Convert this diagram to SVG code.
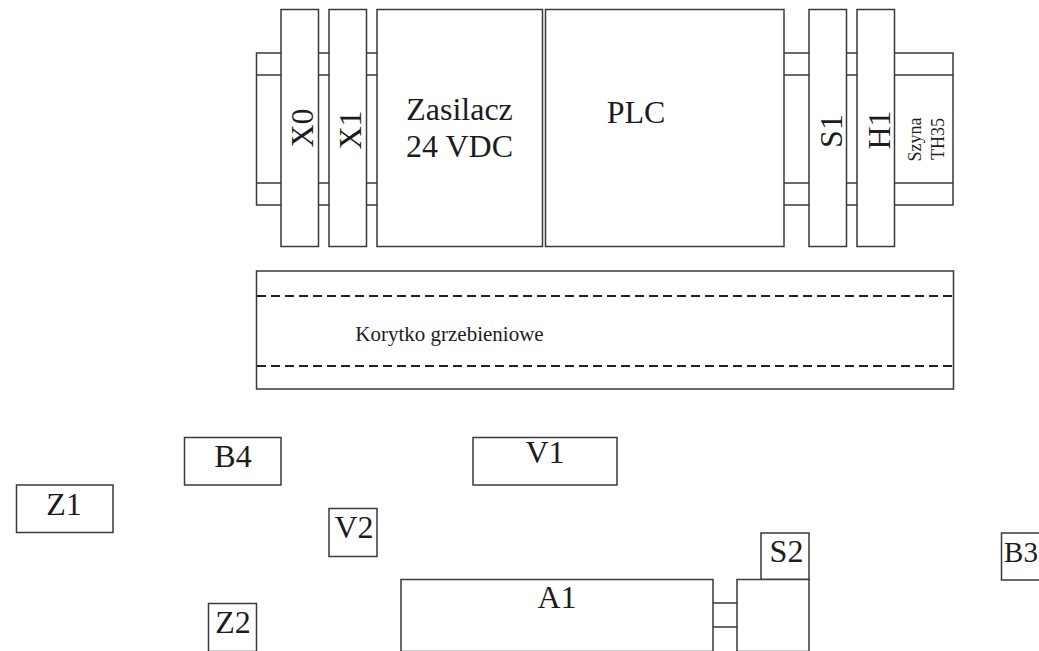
<svg xmlns="http://www.w3.org/2000/svg" width="1039" height="651" viewBox="0 0 1039 651">
<style>
rect,line,path{fill:none;stroke:#3a3a3a;stroke-width:1.5}
rect{fill:#fff}
.dash{stroke:#222;stroke-width:2;stroke-dasharray:9 5}
text{font-family:"Liberation Serif","Times New Roman",serif;fill:#1c1c1c;text-anchor:middle}
.b{font-size:32px}
.m{font-size:21px}
.s{font-size:18px}
</style>
<rect width="1039" height="651" style="fill:#fff;stroke:none"/>
<g id="connectors">
<path d="M281 53H256.500V205H281M256.500 75H281M256.500 183H281"/>
<path d="M318 53H329M318 75H329M318 183H329M318 205H329"/>
<path d="M366 53H377M366 75H377M366 183H377M366 205H377"/>
<path d="M784 53H809M784 75H809M784 183H809M784 205H809"/>
<path d="M846 53H857M846 75H857M846 183H857M846 205H857"/>
<path d="M894 53H953V205H894M894 75H953M894 183H953"/>
<path d="M713 603H737M713 627H737"/>
</g>
<g id="X0"><rect x="281" y="9.500" width="37.500" height="237"/><text class="b" transform="translate(313,128) rotate(-90)">X0</text></g>
<g id="X1"><rect x="329" y="9.500" width="37.500" height="237"/><text class="b" transform="translate(361,130) rotate(-90)">X1</text></g>
<g id="zasilacz"><rect x="377" y="9.500" width="165.500" height="237"/><text class="b" x="459.500" y="120">Zasilacz</text><text class="b" x="459.500" y="157">24 VDC</text></g>
<g id="plc"><rect x="545.500" y="9.500" width="238.500" height="237"/><text class="b" x="636" y="123">PLC</text></g>
<g id="S1"><rect x="809" y="9.500" width="37.500" height="237"/><text class="b" transform="translate(842,131) rotate(-90)">S1</text></g>
<g id="H1"><rect x="857" y="9.500" width="37.500" height="237"/><text class="b" transform="translate(890,130) rotate(-90)">H1</text></g>
<g id="szyna"><text class="s" transform="translate(921,139.500) rotate(-90)">Szyna</text><text class="s" transform="translate(944,139) rotate(-90)">TH35</text></g>
<g id="korytko"><rect x="256.500" y="271" width="697" height="118"/><line class="dash" x1="257" y1="296" x2="953" y2="296"/><line class="dash" x1="257" y1="366" x2="953" y2="366"/><text class="m" x="449.500" y="341">Korytko grzebieniowe</text></g>
<g id="B4"><rect x="184.500" y="437.500" width="96.500" height="47.500"/><text class="b" x="233" y="467">B4</text></g>
<g id="V1"><rect x="473" y="437.500" width="144" height="47.500"/><text class="b" x="545" y="463">V1</text></g>
<g id="Z1"><rect x="16.500" y="485" width="96.500" height="47.500"/><text class="b" x="64" y="515">Z1</text></g>
<g id="V2"><rect x="329" y="508.500" width="48" height="48"/><text class="b" x="354" y="538">V2</text></g>
<g id="Z2"><rect x="208.500" y="603.500" width="48" height="48"/><text class="b" x="233" y="633">Z2</text></g>
<g id="A1"><rect x="401" y="579.500" width="312" height="72"/><text class="b" x="557" y="608">A1</text></g>
<g id="S2"><rect x="761" y="533" width="48" height="46.500"/><text class="b" x="786.500" y="562">S2</text></g>
<g id="A1-unit"><rect x="737" y="579.500" width="72" height="72"/></g>
<g id="B3"><rect x="1001.500" y="533" width="48" height="47"/><text x="1021" y="562" style="font-size:29px">B3</text></g>
</svg>
